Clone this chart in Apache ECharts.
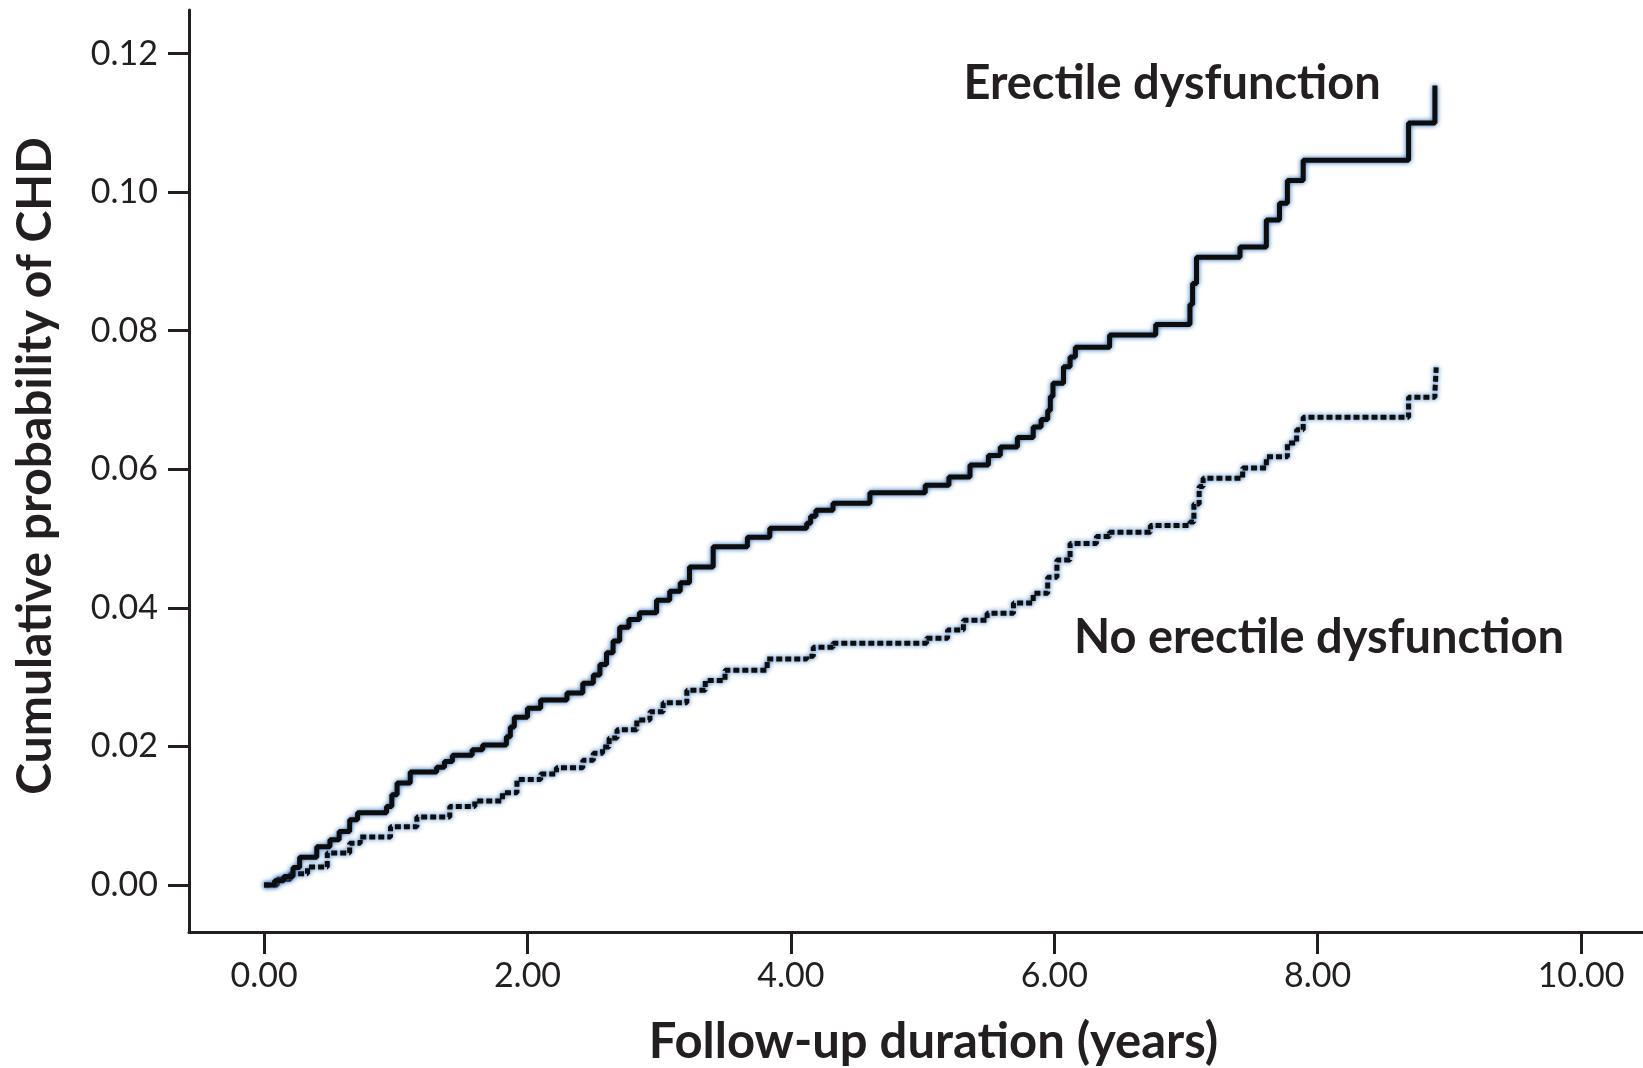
<!DOCTYPE html>
<html>
<head>
<meta charset="utf-8">
<script src="https://cdn.jsdelivr.net/npm/echarts@6/dist/echarts.min.js"></script>
<style>
html,body{margin:0;padding:0;background:#fff;}
#chart{width:1643px;height:1068px;}
</style>
</head>
<body>
<div id="chart"></div>
<script>
// ---- Data ----
const xTicks = [0, 2, 4, 6, 8, 10];
const yTicks = [0, 0.02, 0.04, 0.06, 0.08, 0.10, 0.12];

const seriesNames = ['Erectile dysfunction', 'No erectile dysfunction'];

// Kaplan-Meier style cumulative probability, [years, probability]
const edTimes = [0, 0.08, 0.15, 0.22, 0.27, 0.4, 0.5, 0.57, 0.65, 0.71, 0.93, 0.97, 1.01, 1.11, 1.31, 1.37, 1.43, 1.58, 1.66, 1.84, 1.87, 1.9, 2.0, 2.1, 2.3, 2.42, 2.5, 2.55, 2.6, 2.65, 2.7, 2.77, 2.85, 2.98, 3.08, 3.16, 3.23, 3.41, 3.67, 3.84, 4.12, 4.15, 4.19, 4.32, 4.6, 5.02, 5.2, 5.36, 5.5, 5.59, 5.72, 5.84, 5.9, 5.95, 5.97, 5.99, 6.07, 6.12, 6.16, 6.42, 6.77, 7.03, 7.05, 7.08, 7.41, 7.61, 7.71, 7.77, 7.89, 8.69, 8.89];
const edValues = [0, 0.0006, 0.0012, 0.0025, 0.004, 0.0055, 0.0065, 0.0077, 0.0094, 0.0104, 0.0113, 0.013, 0.0147, 0.0163, 0.017, 0.0178, 0.0187, 0.0195, 0.0202, 0.0214, 0.0228, 0.0242, 0.0255, 0.0267, 0.0277, 0.0291, 0.0303, 0.0318, 0.0335, 0.0352, 0.0372, 0.0383, 0.0393, 0.0411, 0.0424, 0.0436, 0.0459, 0.0488, 0.0502, 0.0515, 0.0522, 0.0532, 0.0541, 0.0551, 0.0566, 0.0577, 0.0589, 0.0606, 0.062, 0.0632, 0.0646, 0.0661, 0.0672, 0.0685, 0.0705, 0.0724, 0.0748, 0.0762, 0.0776, 0.0794, 0.0809, 0.0838, 0.0868, 0.0906, 0.0921, 0.096, 0.0984, 0.1017, 0.1046, 0.11, 0.1154];

const noEdTimes = [0, 0.1, 0.2, 0.33, 0.48, 0.65, 0.73, 0.96, 1.16, 1.41, 1.6, 1.81, 1.92, 2.1, 2.22, 2.42, 2.5, 2.57, 2.62, 2.68, 2.83, 2.93, 3.03, 3.21, 3.35, 3.5, 3.82, 4.12, 4.17, 4.32, 5.03, 5.19, 5.31, 5.49, 5.69, 5.84, 5.95, 6.02, 6.12, 6.32, 6.42, 6.73, 7.03, 7.06, 7.1, 7.13, 7.43, 7.61, 7.77, 7.84, 7.89, 8.69, 8.89, 8.9];
const noEdValues = [0, 0.0008, 0.0016, 0.0026, 0.0046, 0.006, 0.0069, 0.0084, 0.0098, 0.0113, 0.0121, 0.0133, 0.0152, 0.016, 0.0169, 0.018, 0.019, 0.0199, 0.0212, 0.0224, 0.0238, 0.025, 0.0263, 0.0281, 0.0295, 0.031, 0.0326, 0.033, 0.0343, 0.0349, 0.0356, 0.0368, 0.0382, 0.0392, 0.0407, 0.0421, 0.0444, 0.0469, 0.0493, 0.0503, 0.0509, 0.0519, 0.0524, 0.055, 0.0575, 0.0587, 0.0602, 0.0618, 0.0638, 0.0657, 0.0675, 0.0704, 0.0711, 0.0747];

// annotation anchors (data space: left edge of text, vertical middle)
const labelAnchorX = [5.31, 6.15];
const labelAnchorY = [0.1156, 0.0356];

const xAxisName = 'Follow-up duration (years)';
const yAxisName = 'Cumulative probability of CHD';

// ---- Chart ----
const zip = (a, b) => a.map((v, i) => [v, b[i]]);
const INK = '#231f20';
const FONT = 'Lato';

const chart = echarts.init(document.getElementById('chart'), null, {renderer: 'canvas'});

const lineBase = {
  type: 'line',
  step: 'end',
  showSymbol: false,
  symbol: 'none',
  animation: false,
  silent: true
};

function annotation(i) {
  return {
    symbol: 'circle',
    symbolSize: 0,
    silent: true,
    label: {
      show: true,
      position: 'right',
      distance: 0,
      formatter: seriesNames[i],
      color: INK,
      fontFamily: FONT,
      fontWeight: 'bold',
      fontSize: 47
    },
    data: [{coord: [labelAnchorX[i], labelAnchorY[i]]}]
  };
}

const halo = 'rgba(35,105,185,1)';

chart.setOption({
  backgroundColor: '#ffffff',
  animation: false,
  grid: {left: 189, right: 0, top: 10, bottom: 136, containLabel: false, outerBoundsMode: 'none'},
  xAxis: {
    type: 'value',
    min: -0.57,
    max: 10.47,
    name: xAxisName,
    nameLocation: 'middle',
    nameGap: 86,
    nameTextStyle: {color: INK, fontFamily: FONT, fontWeight: 'bold', fontSize: 49, padding: [0, 0, 0, 35]},
    splitLine: {show: false},
    axisLine: {onZero: false, lineStyle: {color: INK, width: 3}},
    axisTick: {show: true, customValues: xTicks, length: 22, lineStyle: {color: INK, width: 3}},
    axisLabel: {customValues: xTicks, margin: 27, color: INK, fontFamily: FONT, fontSize: 34,
      formatter: v => Number(v).toFixed(2)}
  },
  yAxis: {
    type: 'value',
    min: -0.0068,
    max: 0.1263,
    name: yAxisName,
    nameLocation: 'middle',
    nameGap: 129,
    nameTextStyle: {color: INK, fontFamily: FONT, fontWeight: 'bold', fontSize: 48, padding: [0, 0, 0, 10]},
    splitLine: {show: false},
    axisLine: {show: true, onZero: false, lineStyle: {color: INK, width: 3}},
    axisTick: {show: true, customValues: yTicks, length: 21, lineStyle: {color: INK, width: 3}},
    axisLabel: {customValues: yTicks, margin: 31, color: INK, fontFamily: FONT, fontSize: 34,
      formatter: v => Number(v).toFixed(2)}
  },
  series: [
    Object.assign({}, lineBase, {
      name: seriesNames[0],
      data: zip(edTimes, edValues),
      lineStyle: {color: '#0d0d0d', width: 5, shadowColor: halo, shadowBlur: 5},
      markPoint: annotation(0),
      z: 3
    }),
    Object.assign({}, lineBase, {
      name: seriesNames[1],
      data: zip(noEdTimes, noEdValues),
      lineStyle: {color: '#0d0d0d', width: 5, type: [6, 3], shadowColor: halo, shadowBlur: 5},
      markPoint: annotation(1),
      z: 2
    })
  ]
});
</script>
</body>
</html>
